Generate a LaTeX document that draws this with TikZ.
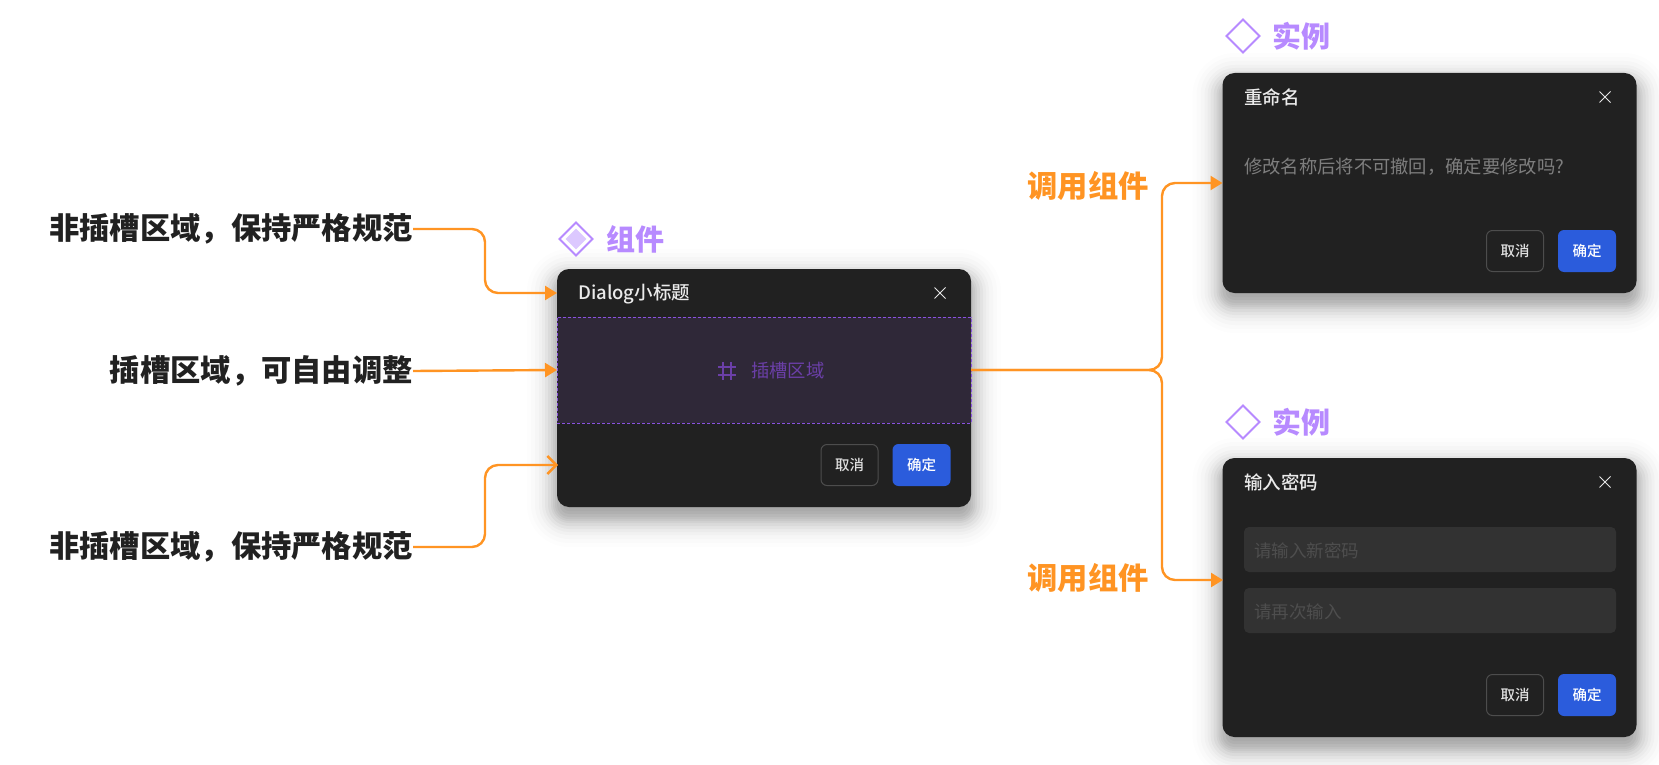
\documentclass[tikz,border=0pt]{standalone}
\usepackage{xcolor}
\usepackage{fontspec}
\setmainfont{Noto Sans CJK SC}
\newfontfamily\medfont{Noto Sans CJK SC Medium}
\usetikzlibrary{shapes.geometric, shapes.misc, arrows.meta, positioning, backgrounds, calc}
\definecolor{dlgbg}{HTML}{212121}
\definecolor{slotbg}{HTML}{2F2838}
\definecolor{slotline}{HTML}{8A52E0}
\definecolor{slottext}{HTML}{6B3FA8}
\definecolor{linkcol}{HTML}{FF9423}
\definecolor{headcol}{HTML}{B78AFF}
\definecolor{headfill}{HTML}{DCC8FF}
\definecolor{okcol}{HTML}{2B5CDC}
\definecolor{inputbg}{HTML}{323232}
\newcommand{\fsz}[1]{\fontsize{#1}{#1}\selectfont}
% soft shadow under a dialog
\newcommand{\dlgshadow}[1]{%
  \begin{pgfonlayer}{background}
  \foreach \s/\o in {30/.008, 26/.012, 22/.016, 18/.02, 15/.025, 12/.03, 9/.035, 6/.04, 4/.04, 2/.04, 0/.04, -3/.04, -6/.03, -9/.02} {
    \fill[black, opacity=\o, rounded corners=12pt+\s pt] ($(#1.north west)+(-\s,-\s+10)$) rectangle ($(#1.south east)+(\s,\s+10)$);
  }
  \end{pgfonlayer}
}

\begin{document}
\begin{tikzpicture}[
  x=1pt, y=-1pt,
  dialog/.style={rectangle, fill=dlgbg, rounded corners=12pt, minimum width=414pt, outer sep=0pt, inner sep=0pt},
  slot/.style={rectangle, fill=slotbg, draw=slotline, line width=1pt, dash pattern=on 3pt off 2pt, minimum width=414pt, minimum height=106pt, outer sep=0pt},
  title/.style={anchor=west, inner sep=0pt, text=white!92!black, font=\medfont\fsz{18.5}},
  closex/.style={cross out, draw=white!90!black, line width=1pt, minimum size=11pt, inner sep=0pt, outer sep=0pt},
  btnok/.style={rectangle, fill=okcol, rounded corners=6pt, minimum width=58pt, minimum height=42pt, inner sep=0pt, outer sep=0pt, text=white, font=\medfont\fsz{14.5}},
  btnno/.style={rectangle, draw=white!20!dlgbg, line width=1pt, rounded corners=6pt, minimum width=57pt, minimum height=41pt, inner sep=0pt, outer sep=0pt, text=white!88!black, font=\medfont\fsz{14.5}},
  inputbox/.style={rectangle, fill=inputbg, rounded corners=5pt, minimum width=372pt, minimum height=45pt, inner sep=0pt, outer sep=0pt},
  hint/.style={anchor=west, inner sep=0pt, text=white!20!dlgbg, font=\fsz{17.5}},
  markbox/.style={shape=diamond, draw=headcol, line width=2pt, minimum size=33pt, inner sep=0pt, outer sep=0pt},
  head/.style={anchor=west, inner sep=0pt, text=headcol, font=\fsz{29}\bfseries},
  note/.style={anchor=east, inner sep=0pt, text=black!87, font=\fsz{30.3}\bfseries},
  call/.style={anchor=east, inner sep=0pt, text=linkcol, font=\fsz{30.3}\bfseries},
  link/.style={draw=linkcol, line width=2.4pt, rounded corners=13pt},
  tip/.style={-{Triangle[length=12pt,width=14pt]}},
  barb/.style={-{Straight Barb[length=9pt,width=18pt]}}
]
\useasboundingbox (0,0) rectangle (1659,765);
\begin{pgfonlayer}{background}
\fill[white] (0,0) rectangle (1659,765);
\end{pgfonlayer}

% component dialog
\node[dialog, minimum height=238pt] (dlg) at (764,388) {};
\dlgshadow{dlg}
\node[slot] (slotarea) at (764,370) {};
\node[title] (dlgtitle) at (578,294) {Dialog小标题};
\node[closex] (dlgclose) at (940,293) {};
\node[inner sep=0pt, anchor=west, text=slottext, font=\fsz{18.3}] (slottxt) at (751,371) {插槽区域};
\coordinate (hashc) at (727,371);
\draw[slottext, line width=1.4pt] ($(hashc)+(-4,-9)$) -- ($(hashc)+(-4,9)$) ($(hashc)+(4,-9)$) -- ($(hashc)+(4,9)$) ($(hashc)+(-9,-4)$) -- ($(hashc)+(9,-4)$) ($(hashc)+(-9,4)$) -- ($(hashc)+(9,4)$);
\node[btnok] (dlgok) at (921.5,465) {确定};
\node[btnno, left=14.5pt of dlgok] (dlgno) {取消};

% rename dialog
\node[dialog, minimum height=220pt] (dlga) at (1429.5,183) {};
\dlgshadow{dlga}
\node[title] (atitle) at (1244,97) {重命名};
\node[closex] (aclose) at (1605,97) {};
\node[anchor=west, inner sep=0pt, text=white!42!dlgbg, font=\fsz{18.3}] (abody) at (1244,167) {修改名称后将不可撤回，确定要修改吗?};
\node[btnok] (aok) at (1587,251) {确定};
\node[btnno, left=14.5pt of aok] (ano) {取消};

% password dialog
\node[dialog, minimum height=279pt] (dlgb) at (1429.5,597.5) {};
\dlgshadow{dlgb}
\node[title] (btitle) at (1244,482) {输入密码};
\node[closex] (bclose) at (1605,482) {};
\node[inputbox] (binput) at (1430,549.5) {};
\node[inputbox, below=16pt of binput] (binputb) {};
\node[hint] (bhint) at (1254,551) {请输入新密码};
\node[hint] (bhintb) at (1254,612) {请再次输入};
\node[btnok] (bok) at (1587,695) {确定};
\node[btnno, left=14.5pt of bok] (bno) {取消};

% headers
\node[markbox, fill=white] (markd) at (576,239) {};
\node[shape=diamond, fill=headfill, minimum size=21pt, inner sep=0pt] (markin) at (markd) {};
\node[head] (headd) at (606,239) {组件};
\node[markbox] (marka) at (1243,36) {};
\node[head] (heada) at (1272,36) {实例};
\node[markbox] (markb) at (1243,422) {};
\node[head] (headb) at (1272,422) {实例};

% labels left
\node[note] (lblup) at (413,229) {非插槽区域，保持严格规范};
\node[note] (lblmid) at (413,371) {插槽区域，可自由调整};
\node[note] (lbllow) at (413,547) {非插槽区域，保持严格规范};
% labels right
\node[call] (callup) at (1149,186) {调用组件};
\node[call] (calllow) at (1149,578) {调用组件};

\coordinate (kneeL) at (485,0);
\coordinate (kneeR) at (1162,0);
\coordinate (inup) at (557,293);
\coordinate (inlow) at (558,465);
\coordinate (inb) at (1223,580);

\draw[link, tip] (lblup.east) -- (kneeL |- lblup.east) -- (kneeL |- inup) -- (inup);
\draw[link, tip] (lblmid.east) -- (slotarea.west);
\draw[link, barb] (lbllow.east) -- (kneeL |- lbllow.east) -- (kneeL |- inlow) -- (inlow);
\draw[link, tip] (slotarea.east) -- (kneeR |- slotarea.east) -- (kneeR |- dlga.west) -- (dlga.west);
\draw[link, tip] (slotarea.east) -- (kneeR |- slotarea.east) -- (kneeR |- inb) -- (inb);
\end{tikzpicture}
\end{document}
